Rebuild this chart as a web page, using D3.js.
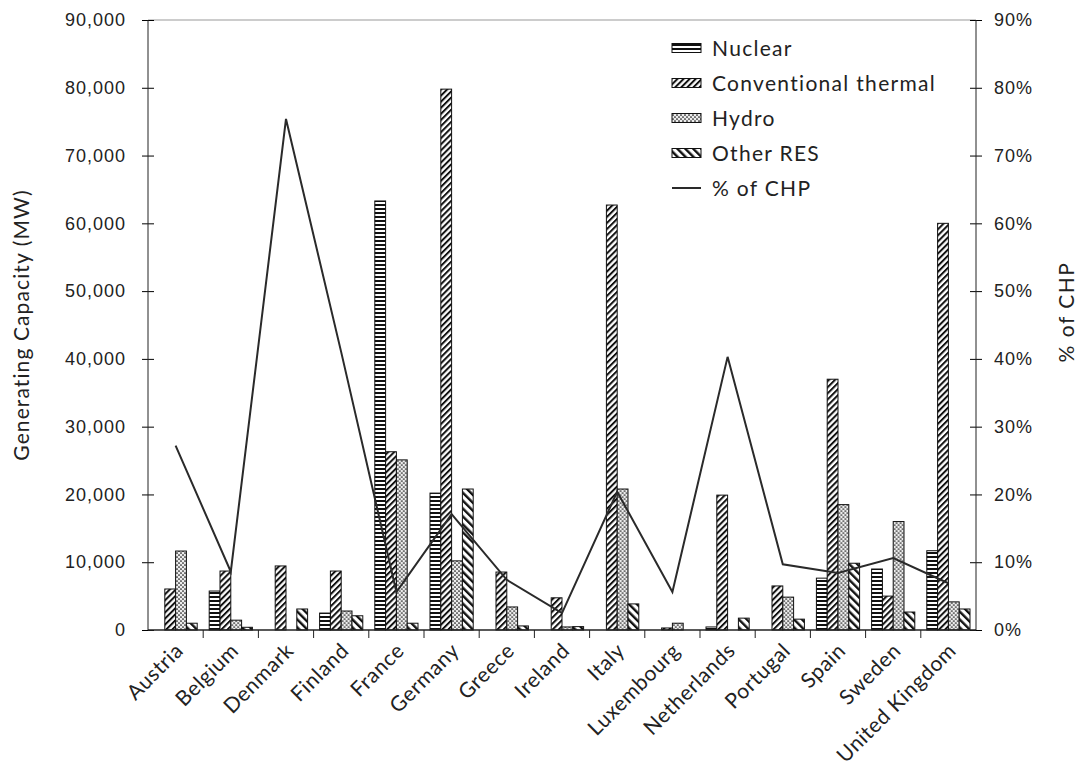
<!DOCTYPE html>
<html>
<head>
<meta charset="utf-8">
<script src="https://cdnjs.cloudflare.com/ajax/libs/d3/7.8.5/d3.min.js"></script>
<style>
  body { margin: 0; background: #fff; }
  .tick-label { font-family: "Liberation Sans", Arial, sans-serif; font-size: 18px; letter-spacing: 1px; fill: #222; }
  .title, .cat, .legend text { font-family: Lato, "Open Sans", sans-serif; fill: #222; }
</style>
</head>
<body>
<div id="chart"></div>
<script>
const width = 1078;
const height = 773;

// data
const countries = ["Austria", "Belgium", "Denmark", "Finland", "France", "Germany", "Greece",
  "Ireland", "Italy", "Luxembourg", "Netherlands", "Portugal", "Spain", "Sweden", "United Kingdom"];
const nuclear      = [0, 5750, 0, 2500, 63300, 20200, 0, 0, 0, 0, 450, 0, 7650, 9000, 11700];
const conventional = [6050, 8700, 9450, 8700, 26300, 79800, 8550, 4750, 62700, 300, 19900, 6500, 37000, 5000, 60000];
const hydro        = [11650, 1450, 0, 2800, 25100, 10200, 3400, 450, 20800, 1000, 0, 4850, 18500, 16000, 4150];
const otherRes     = [1000, 400, 3100, 2100, 1000, 20800, 600, 500, 3850, 0, 1750, 1600, 9850, 2650, 3100];
const chpShare     = [27.2, 8.6, 75.4, 41, 5.6, 17.1, 7.4, 2.5, 20.4, 5.6, 40.3, 9.7, 8.4, 10.6, 6.9];

const seriesNames = ["Nuclear", "Conventional thermal", "Hydro", "Other RES"];
const seriesValues = [nuclear, conventional, hydro, otherRes];
const patternIds = ["pNuclear", "pThermal", "pHydro", "pOther"];
const leftTicks = [0, 10000, 20000, 30000, 40000, 50000, 60000, 70000, 80000, 90000];
const rightTicks = [0, 10, 20, 30, 40, 50, 60, 70, 80, 90];

const margin = { top: 20, right: 102, bottom: 143, left: 148 };
const plotW = width - margin.left - margin.right;
const plotH = height - margin.top - margin.bottom;

const svg = d3.select("#chart").append("svg")
  .attr("width", width)
  .attr("height", height);

// fill patterns
const defs = svg.append("defs");

const pN = defs.append("pattern").attr("id", "pNuclear")
  .attr("patternUnits", "userSpaceOnUse").attr("width", 4).attr("height", 4);
pN.append("rect").attr("width", 4).attr("height", 4).attr("fill", "#fff");
pN.append("rect").attr("width", 4).attr("height", 2).attr("fill", "#111");

const pT = defs.append("pattern").attr("id", "pThermal")
  .attr("patternUnits", "userSpaceOnUse").attr("width", 4.3).attr("height", 4.3)
  .attr("patternTransform", "rotate(45)");
pT.append("rect").attr("width", 4.3).attr("height", 4.3).attr("fill", "#fff");
pT.append("rect").attr("width", 2).attr("height", 4.3).attr("fill", "#111");

const pH = defs.append("pattern").attr("id", "pHydro")
  .attr("patternUnits", "userSpaceOnUse").attr("width", 4).attr("height", 4);
pH.append("rect").attr("width", 4).attr("height", 4).attr("fill", "#ececec");
pH.append("circle").attr("cx", 1).attr("cy", 1).attr("r", 0.85).attr("fill", "#111");
pH.append("circle").attr("cx", 3).attr("cy", 3).attr("r", 0.85).attr("fill", "#111");

const pO = defs.append("pattern").attr("id", "pOther")
  .attr("patternUnits", "userSpaceOnUse").attr("width", 5.6).attr("height", 5.6)
  .attr("patternTransform", "rotate(-45)");
pO.append("rect").attr("width", 5.6).attr("height", 5.6).attr("fill", "#fff");
pO.append("rect").attr("width", 2.4).attr("height", 5.6).attr("fill", "#111");

const g = svg.append("g").attr("transform", `translate(${margin.left},${margin.top})`);

// scales
const x0 = d3.scaleBand().domain(countries).range([0, plotW]).padding(0);
const x1 = d3.scaleBand().domain(seriesNames).range([6, x0.bandwidth() - 6]).padding(0);
const y = d3.scaleLinear().domain([0, 90000]).range([plotH, 0]);
const yR = d3.scaleLinear().domain([0, 90]).range([plotH, 0]);

// top border
g.append("line")
  .attr("x1", 0).attr("x2", plotW).attr("y1", 0).attr("y2", 0)
  .attr("stroke", "#bbb").attr("stroke-width", 1.5);

// bars
const groups = g.append("g").selectAll("g")
  .data(countries)
  .join("g")
  .attr("transform", d => `translate(${x0(d)},0)`);

groups.selectAll("rect")
  .data((d, i) => seriesNames.map((s, k) => ({ s, k, v: seriesValues[k][i] })).filter(e => e.v > 0))
  .join("rect")
  .attr("x", e => x1(e.s))
  .attr("width", x1.bandwidth())
  .attr("y", e => y(e.v))
  .attr("height", e => plotH - y(e.v))
  .attr("fill", e => `url(#${patternIds[e.k]})`)
  .attr("stroke", "#111")
  .attr("stroke-width", 1);

// % of CHP line
const line = d3.line()
  .x((d, i) => x0(countries[i]) + x0.bandwidth() / 2)
  .y(d => yR(d));

g.append("path")
  .datum(chpShare)
  .attr("d", line)
  .attr("fill", "none")
  .attr("stroke", "#2a2a2a")
  .attr("stroke-width", 2);

// left axis
const yAxis = g.append("g")
  .call(d3.axisLeft(y).tickValues(leftTicks).tickFormat(d3.format(",")).tickSize(6).tickPadding(16));
yAxis.selectAll(".tick line").attr("x2", 6).attr("x1", -6);
yAxis.selectAll("text").attr("class", "tick-label");
yAxis.select(".domain").remove();
yAxis.append("line").attr("y1", 0).attr("y2", plotH).attr("stroke", "#222");

// right axis
const yAxisR = g.append("g")
  .attr("transform", `translate(${plotW},0)`)
  .call(d3.axisRight(yR).tickValues(rightTicks).tickFormat(d => d + "%").tickSize(6).tickPadding(12));
yAxisR.selectAll(".tick line").attr("x1", -6).attr("x2", 6);
yAxisR.selectAll("text").attr("class", "tick-label");
yAxisR.select(".domain").remove();
yAxisR.append("line").attr("y1", 0).attr("y2", plotH).attr("stroke", "#222");

// bottom axis: ticks on the category boundaries
const xAxis = g.append("g").attr("transform", `translate(0,${plotH})`);
xAxis.append("line").attr("x1", 0).attr("x2", plotW).attr("stroke", "#222").attr("stroke-width", 1.5);
xAxis.selectAll("line.bt")
  .data(countries.slice(1))
  .join("line")
  .attr("class", "bt")
  .attr("x1", d => x0(d)).attr("x2", d => x0(d))
  .attr("y1", 0).attr("y2", 8)
  .attr("stroke", "#222");

xAxis.selectAll("text.cat")
  .data(countries)
  .join("text")
  .attr("class", "cat")
  .attr("text-anchor", "end")
  .attr("font-size", 21)
  .attr("letter-spacing", 0.6)
  .attr("transform", d => `translate(${x0(d) + x0.bandwidth() / 2 + 9},${22}) rotate(-45)`)
  .text(d => d);

// axis titles
svg.append("text")
  .attr("class", "title")
  .attr("font-size", 21)
  .attr("letter-spacing", 1.1)
  .attr("text-anchor", "middle")
  .attr("transform", "translate(29,325) rotate(-90)")
  .text("Generating Capacity (MW)");

svg.append("text")
  .attr("class", "title")
  .attr("font-size", 21)
  .attr("letter-spacing", 1.5)
  .attr("text-anchor", "middle")
  .attr("transform", "translate(1074,312) rotate(-90)")
  .text("% of CHP");

// legend
const legend = svg.append("g").attr("class", "legend").attr("transform", "translate(672,48)");
const legendItems = seriesNames.concat(["% of CHP"]);
const li = legend.selectAll("g")
  .data(legendItems)
  .join("g")
  .attr("transform", (d, i) => `translate(0,${i * 35})`);

li.filter((d, i) => i < 4).append("rect")
  .attr("x", 0).attr("y", -4.5).attr("width", 29).attr("height", 9)
  .attr("fill", (d, i) => `url(#${patternIds[i]})`)
  .attr("stroke", "#111");

li.filter((d, i) => i === 4).append("line")
  .attr("x1", 0).attr("x2", 29).attr("y1", 0).attr("y2", 0)
  .attr("stroke", "#2a2a2a").attr("stroke-width", 2);

li.append("text")
  .attr("x", 40)
  .attr("dy", "0.36em")
  .attr("font-size", 21)
  .attr("letter-spacing", 1.3)
  .text(d => d);
</script>
</body>
</html>
